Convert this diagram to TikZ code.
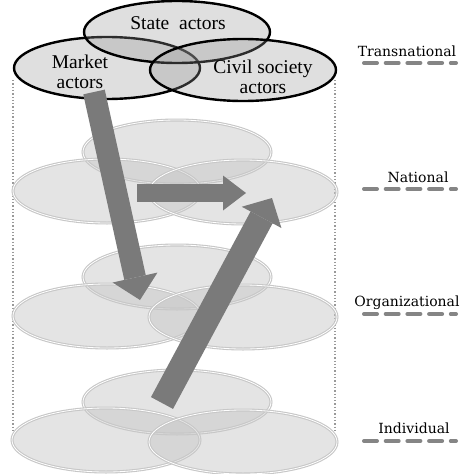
\documentclass[tikz,border=0pt]{standalone}
\usepackage{fontspec}
\setmainfont{Liberation Serif}
\newfontfamily\lblfont{DejaVu Serif}
\usetikzlibrary{shapes.geometric,arrows.meta}
\begin{document}
\begin{tikzpicture}[x=1pt,y=-1pt,
  topell/.style={ellipse,draw=black,line width=2.4pt,fill=black!42,fill opacity=0.3,draw opacity=1,inner sep=0pt,minimum width=186pt,minimum height=62pt},
  lowell/.style={ellipse,draw=black!22,line width=1.1pt,double=white,double distance=0.8pt,fill=black!22,fill opacity=0.48,draw opacity=1,inner sep=0pt,minimum width=188pt,minimum height=64pt},
  toplbl/.style={font=\fontsize{19.5}{20}\selectfont,align=center,inner sep=0pt},
  lvllbl/.style={font=\lblfont\fontsize{14}{16}\selectfont,inner sep=0pt},
  lvlline/.style={draw=black!48,line width=4pt,line cap=round,dash pattern=on 13pt off 8.7pt},
  guide/.style={draw=black!40,line width=1.3pt,dotted},
  bigarrow/.style={draw=black!52,line cap=butt}
]
\useasboundingbox (0,0) rectangle (474,474);
% dotted guides
\coordinate (gl1) at (13,80); \coordinate (gl2) at (13,433);
\coordinate (gr1) at (335,80); \coordinate (gr2) at (335,430);
\draw[guide] (gl1) -- (gl2);
\draw[guide] (gr1) -- (gr2);
% individual level
\node[lowell] (ib) at (177,402) {};
\node[lowell] (il) at (106,440) {};
\node[lowell] (ir) at (243,442) {};
% organizational level
\node[lowell] (ob) at (177,277) {};
\node[lowell] (ol) at (107,316) {};
\node[lowell] (or) at (243,317) {};
% national level
\node[lowell] (nb) at (177,152) {};
\node[lowell] (nl) at (107,191) {};
\node[lowell] (nr) at (243,192) {};
% transnational level
\node[topell] (market) at (107,68) {};
\node[topell] (state) at (177,32) {};
\node[topell] (civil) at (243,70) {};
\node[toplbl] (statet) at (178,23) {State\ \ actors};
\node[toplbl] (markett) at (80,72) {Market\\actors};
\node[toplbl] (civilt) at (263,77) {Civil society\\actors};
% level labels
\node[lvllbl] (tn) at (407,51) {Transnational};
\node[lvllbl] (na) at (418,177) {National};
\node[lvllbl] (og) at (407,303) {Organizational};
\node[lvllbl] (in) at (414,428) {Individual};
\coordinate (tn1) at (364,63); \coordinate (tn2) at (456,63);
\coordinate (na1) at (364,189); \coordinate (na2) at (456,189);
\coordinate (og1) at (364,314); \coordinate (og2) at (456,314);
\coordinate (in1) at (364,441); \coordinate (in2) at (456,441);
\draw[lvlline] (tn1) -- (tn2);
\draw[lvlline] (na1) -- (na2);
\draw[lvlline] (og1) -- (og2);
\draw[lvlline] (in1) -- (in2);
% arrows
\coordinate (a1s) at (94,92); \coordinate (a1e) at (140,300);
\coordinate (a2s) at (137,193); \coordinate (a2e) at (246,193);
\coordinate (a3s) at (162,403); \coordinate (a3e) at (272,198);
\draw[bigarrow,line width=22pt,-{Triangle[length=23pt,width=46pt,line width=0pt 0]}] (a1s) -- (a1e);
\draw[bigarrow,line width=18pt,-{Triangle[length=23pt,width=35pt,line width=0pt 0]}] (a2s) -- (a2e);
\draw[bigarrow,line width=25pt,-{Triangle[length=22pt,width=45pt,line width=0pt 0]}] (a3s) -- (a3e);
\end{tikzpicture}
\end{document}
